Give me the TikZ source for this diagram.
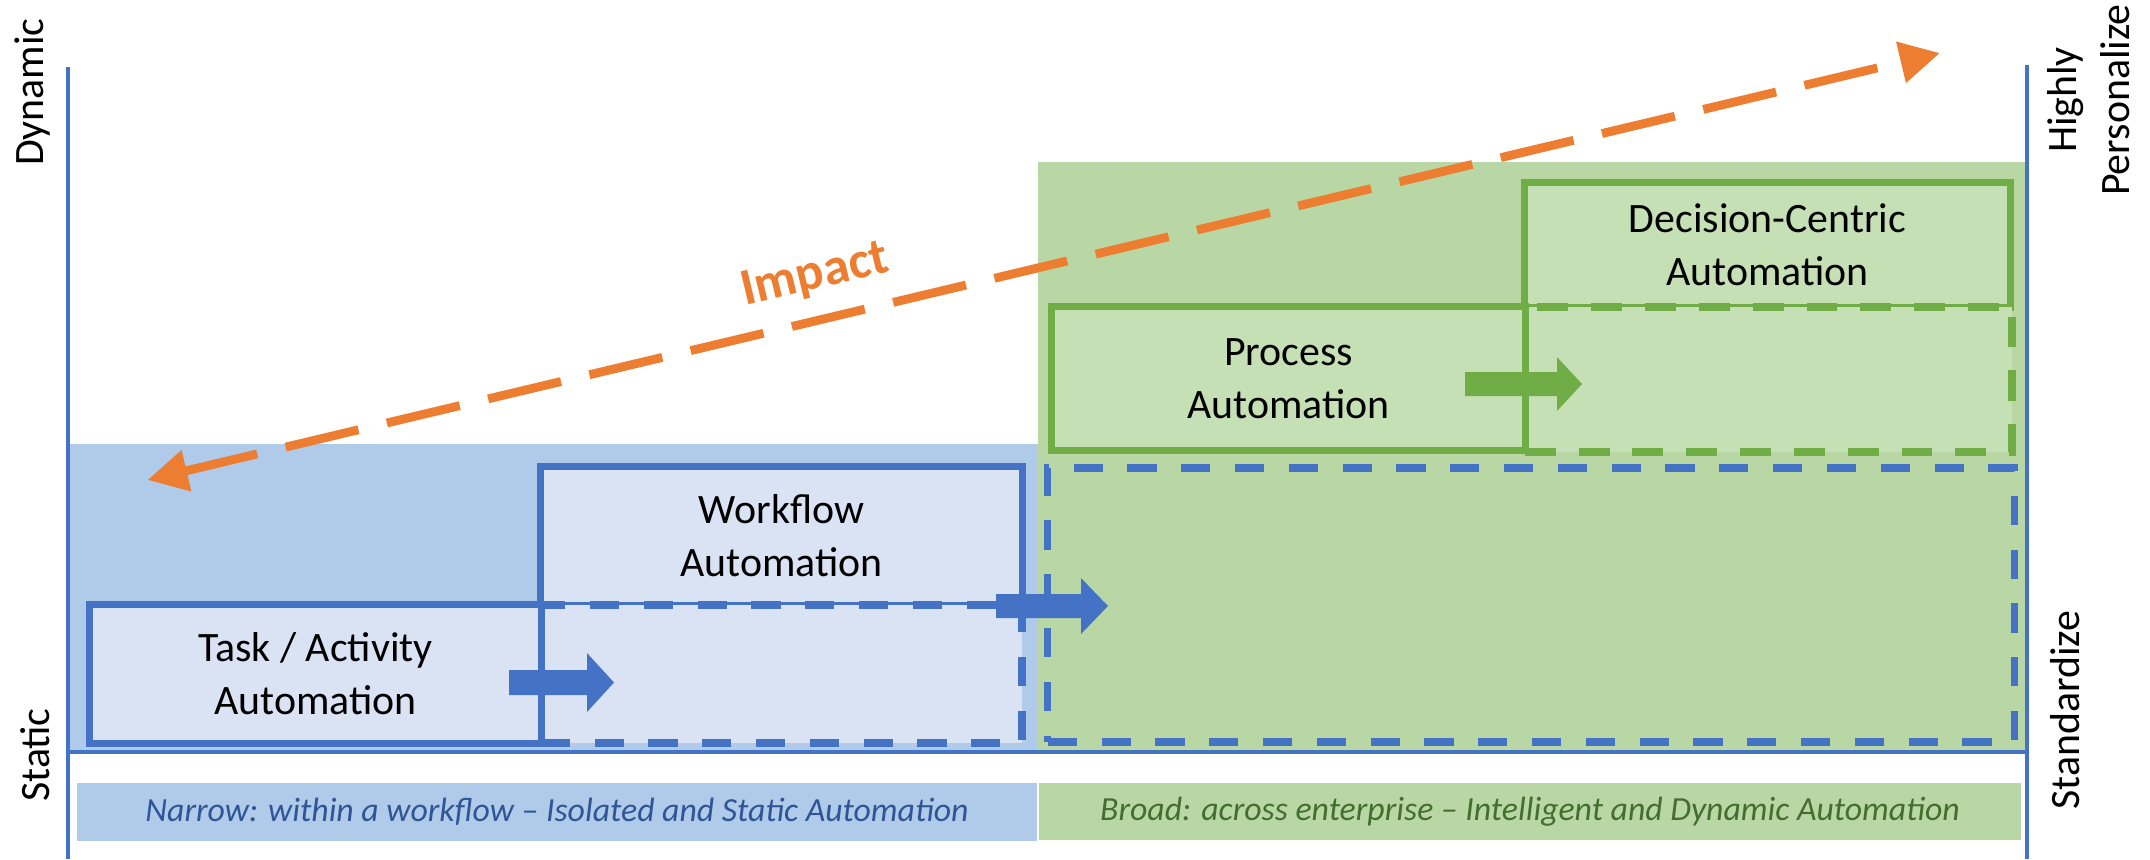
\documentclass[tikz,border=0pt]{standalone}
\usepackage{fontspec}
\setmainfont{Carlito}
\usetikzlibrary{arrows.meta}
\definecolor{lineblue}{HTML}{4472C4}
\definecolor{fillblue}{HTML}{DAE3F3}
\definecolor{bgblue}{HTML}{AFCBE9}
\definecolor{linegreen}{HTML}{70AD47}
\definecolor{fillgreen}{HTML}{C6E0B5}
\definecolor{bggreen}{HTML}{B9D7A5}
\definecolor{impactorange}{HTML}{ED7D31}
\definecolor{textblue}{HTML}{2F5597}
\definecolor{textgreen}{HTML}{436E2E}
\tikzset{
  lbl/.style={font=\fontsize{11.9pt}{15.1pt}\selectfont, text=black, align=center},
  bbox/.style={draw=lineblue, line width=2pt, fill=fillblue, lbl, inner sep=0pt},
  bdash/.style={bbox, line width=2.1pt, dash pattern=on 8.3pt off 7pt},
  gbox/.style={draw=linegreen, line width=2pt, fill=fillgreen, lbl, inner sep=0pt},
  gdash/.style={gbox, line width=2.1pt, dash pattern=on 8.8pt off 6.5pt},
  sidelbl/.style={font=\fontsize{11.9pt}{15.1pt}\selectfont, rotate=90, inner sep=0pt, align=center},
  bandlbl/.style={inner sep=0pt, font=\fontsize{9.6pt}{11pt}\selectfont\itshape},
  axisline/.style={draw=lineblue, line width=0.9pt},
  impactline/.style={draw=impactorange, line width=2.5pt, dash pattern=on 21.3pt off 8.3pt,
    arrows={Triangle[length=11.4pt,width=11.4pt]-Triangle[length=11.4pt,width=11.4pt]}},
}
\begin{document}
\begin{tikzpicture}[x=0.01cm,y=-0.01cm]
\useasboundingbox (0,0) rectangle (2150,859);
\fill[white] (0,0) rectangle (2150,859);
% backgrounds
\fill[bgblue] (68,444) rectangle (1038,752);
\fill[bggreen] (1038,162) rectangle (2027,752);
% bottom bands
\node[bandlbl, fill=bgblue, text=textblue, minimum width=9.6cm, minimum height=0.58cm] (narrow) at (557,812)
  {Narrow: within a workflow -- Isolated and Static Automation};
\node[bandlbl, fill=bggreen, text=textgreen, minimum width=9.82cm, minimum height=0.57cm] (broad) at (1530,811.5)
  {Broad: across enterprise -- Intelligent and Dynamic Automation};
% blue boxes
\node[bbox, minimum width=4.81cm, minimum height=1.38cm] (workflow) at (781.5,536) {Workflow\\Automation};
\node[bdash, minimum width=4.81cm, minimum height=1.38cm] (taskext) at (781.5,674) {};
\node[bbox, minimum width=4.51cm, minimum height=1.38cm] (task) at (315.5,674) {Task / Activity\\Automation};
% green boxes
\node[gbox, minimum width=4.85cm, minimum height=1.24cm] (decision) at (1767.5,245) {Decision-Centric\\Automation};
\node[gdash, minimum width=4.87cm, minimum height=1.45cm] (decext) at (1768.5,379.5) {};
\node[gbox, minimum width=4.73cm, minimum height=1.43cm] (process) at (1288.5,378.5) {Process\\Automation};
% big blue dashed box
\node[draw=lineblue, line width=2.1pt, dash pattern=on 8.3pt off 7pt, minimum width=9.66cm, minimum height=2.74cm] (broadext) at (1531,605) {};
% block arrows
\fill[lineblue] (509,670) -- (587,670) -- (587,653) -- (614,682.5) -- (587,712) -- (587,695) -- (509,695) -- cycle;
\fill[lineblue] (996,594) -- (1081,594) -- (1081,578) -- (1108,606) -- (1081,634) -- (1081,618) -- (996,618) -- cycle;
\fill[linegreen] (1465,372) -- (1557,372) -- (1557,357) -- (1582,384) -- (1557,411) -- (1557,396) -- (1465,396) -- cycle;
% axes
\coordinate (lefttop) at (68,67);
\coordinate (leftbot) at (68,859);
\coordinate (righttop) at (2027,65);
\coordinate (rightbot) at (2027,859);
\coordinate (baseL) at (68,752);
\coordinate (baseR) at (2027,752);
\draw[axisline] (lefttop) -- (leftbot);
\draw[axisline] (righttop) -- (rightbot);
\draw[axisline] (baseL) -- (baseR);
% side labels
\node[sidelbl, anchor=base] (dynamic) at (43,92) {Dynamic};
\node[sidelbl, anchor=base] (static) at (49,755) {Static};
\node[sidelbl] (personal) at (2089,100) {Highly\\Personalize};
\node[sidelbl, anchor=base] (standard) at (2079,710) {Standardize};
% impact arrow
\coordinate (impL) at (147.5,480);
\coordinate (impR) at (1940,53);
\draw[impactline] (impL) -- (impR);
\node[font=\fontsize{14.8pt}{17pt}\selectfont\bfseries, text=impactorange, rotate=13.43, inner sep=0pt] (implabel) at (815,276) {Impact};
\end{tikzpicture}
\end{document}
